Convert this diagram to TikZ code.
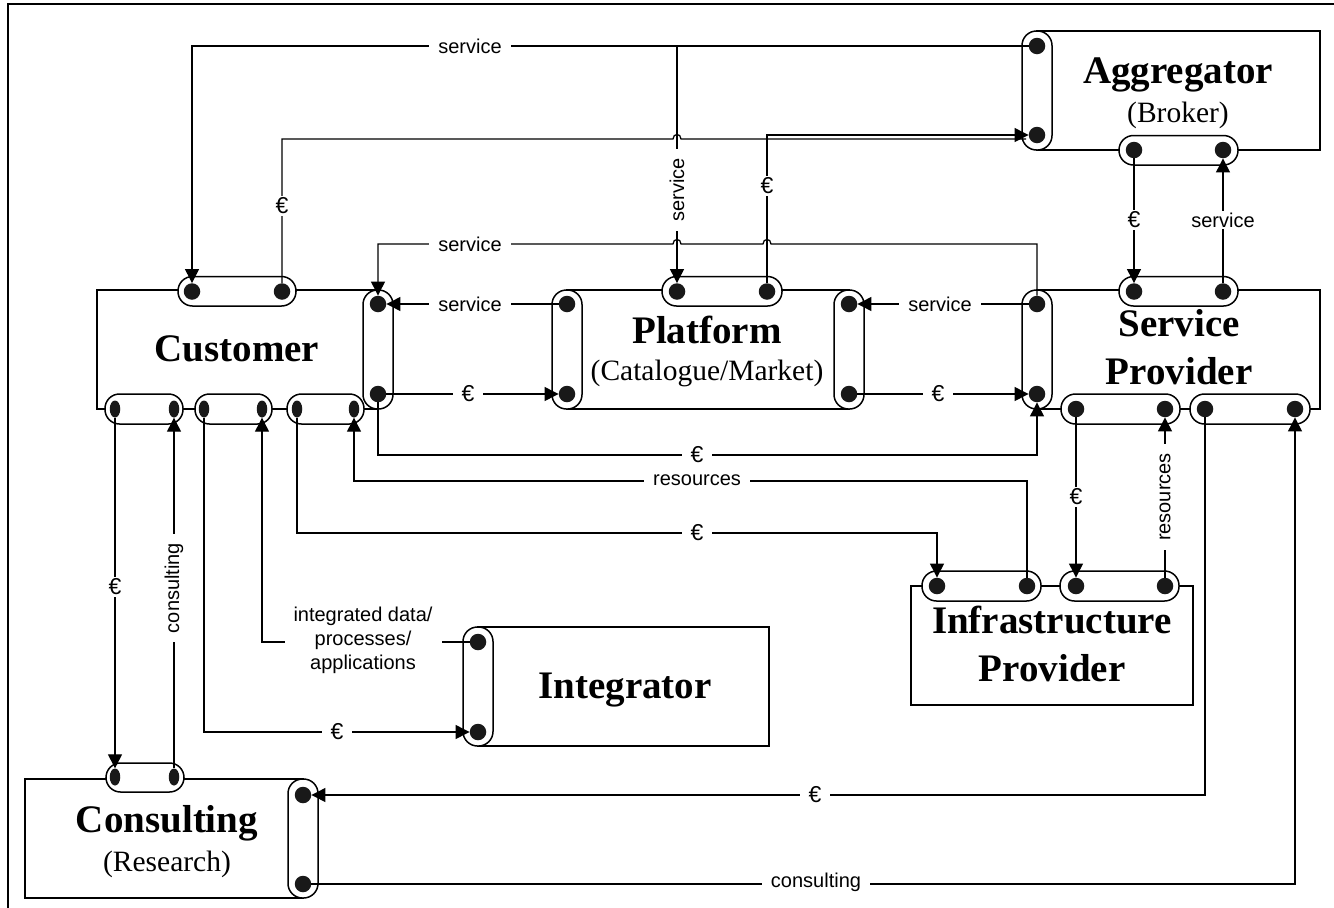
\documentclass[tikz,border=0pt]{standalone}
\usepackage{fontspec}
\setmainfont{Liberation Serif}
\newfontfamily\lblfont{Liberation Sans}
\usetikzlibrary{arrows.meta,shapes.geometric}
\begin{document}
\begin{tikzpicture}[x=1pt,y=-1pt,
  box/.style={draw, line width=1.5pt},
  capsule/.style={draw, fill=white, line width=1.5pt, rounded corners=14.5pt},
  dot/.style={circle, fill=black!90, minimum size=16.5pt, inner sep=0pt},
  edot/.style={ellipse, fill=black!90, minimum width=10.5pt, minimum height=17pt, inner sep=0pt},
  conn/.style={line width=1.25pt, -{Triangle[length=14pt,width=14pt]}},
  plain/.style={line width=1.25pt},
  lbl/.style={fill=white, font=\lblfont\fontsize{20}{24}\selectfont, inner xsep=9pt, inner ysep=2pt},
  eur/.style={lbl, font=\lblfont\fontsize{23}{26}\selectfont},
  title/.style={font=\bfseries\fontsize{39}{44}\selectfont, anchor=base},
  sub/.style={font=\fontsize{29.5}{34}\selectfont, anchor=base},
]
\useasboundingbox (0,0) rectangle (1334,908);
% outer frame
\draw[line width=2.4pt] (8,908) -- (8,4) -- (1334,4);

% ---------- boxes ----------
\draw[box] (1037,31) rectangle (1320,150);   % Aggregator
\draw[box] (97,290) rectangle (378,409);     % Customer
\draw[box] (567,290) rectangle (849,409);    % Platform
\draw[box] (1037,290) rectangle (1320,409);  % Service Provider
\draw[box] (911,586) rectangle (1193,705);   % Infrastructure Provider
\draw[box] (478,627) rectangle (769,746);    % Integrator
\draw[box] (25,779) rectangle (303,898);     % Consulting

% ---------- capsules ----------
% Aggregator
\draw[capsule] (1022,31) rectangle (1052,150);
\draw[capsule] (1119,135.5) rectangle (1238,165);
% Customer
\draw[capsule] (178,276.5) rectangle (296,306);
\draw[capsule] (363,290) rectangle (393,409);
\draw[capsule] (105,394) rectangle (183,424);
\draw[capsule] (195,394) rectangle (272,424);
\draw[capsule] (287,394) rectangle (364,424);
% Platform
\draw[capsule] (662,276.5) rectangle (782,306);
\draw[capsule] (552,290) rectangle (582,409);
\draw[capsule] (834,290) rectangle (864,409);
% Service Provider
\draw[capsule] (1119,276.5) rectangle (1238,306);
\draw[capsule] (1022,290) rectangle (1052,409);
\draw[capsule] (1061,394) rectangle (1180,424);
\draw[capsule] (1190,394) rectangle (1310,424);
% Infrastructure Provider
\draw[capsule] (922,571) rectangle (1041,601);
\draw[capsule] (1060,571) rectangle (1179,601);
% Integrator
\draw[capsule] (463,627) rectangle (493,746);
% Consulting
\draw[capsule] (106,763) rectangle (184,792);
\draw[capsule] (288,779) rectangle (318,898);

% ---------- dots ----------
\node[dot] (agg-l1) at (1037,46) {};
\node[dot] (agg-l2) at (1037,135) {};
\node[dot] (agg-b1) at (1134,150) {};
\node[dot] (agg-b2) at (1223,150) {};

\node[dot] (cus-t1) at (192,291.5) {};
\node[dot] (cus-t2) at (282,291.5) {};
\node[dot] (cus-r1) at (378,304) {};
\node[dot] (cus-r2) at (378,394) {};
\node[edot] (cus-b1) at (115,409) {};
\node[edot] (cus-b2) at (174,409) {};
\node[edot] (cus-b3) at (204,409) {};
\node[edot] (cus-b4) at (262,409) {};
\node[edot] (cus-b5) at (297,409) {};
\node[edot] (cus-b6) at (354,409) {};

\node[dot] (pl-t1) at (677,291.5) {};
\node[dot] (pl-t2) at (767,291.5) {};
\node[dot] (pl-l1) at (567,304) {};
\node[dot] (pl-l2) at (567,394) {};
\node[dot] (pl-r1) at (849,304) {};
\node[dot] (pl-r2) at (849,394) {};

\node[dot] (sp-t1) at (1134,291.5) {};
\node[dot] (sp-t2) at (1223,291.5) {};
\node[dot] (sp-l1) at (1037,304) {};
\node[dot] (sp-l2) at (1037,394) {};
\node[dot] (sp-b1) at (1076,409) {};
\node[dot] (sp-b2) at (1165,409) {};
\node[dot] (sp-b3) at (1205,409) {};
\node[dot] (sp-b4) at (1295,409) {};

\node[dot] (in-t1) at (937,586) {};
\node[dot] (in-t2) at (1027,586) {};
\node[dot] (in-t3) at (1076,586) {};
\node[dot] (in-t4) at (1165,586) {};

\node[dot] (ig-1) at (478,642) {};
\node[dot] (ig-2) at (478,732) {};

\node[edot] (co-t1) at (115,777) {};
\node[edot] (co-t2) at (174,777) {};
\node[dot] (co-r1) at (303,795) {};
\node[dot] (co-r2) at (303,884) {};

% ---------- titles ----------
\node[title] (t-agg) at (1178,83) {Aggregator};
\node[sub] (s-agg) at (1178,122) {(Broker)};
\node[title] (t-cus) at (237,361) {Customer};
\node[title] (t-pl) at (707,343) {Platform};
\node[sub] (s-pl) at (707,380) {(Catalogue/Market)};
\node[title] (t-sp1) at (1179,336) {Service};
\node[title] (t-sp2) at (1179,384) {Provider};
\node[title] (t-in1) at (1052,633) {Infrastructure};
\node[title] (t-in2) at (1052,681) {Provider};
\node[title] (t-ig) at (625,698) {Integrator};
\node[title] (t-co) at (167,832) {Consulting};
\node[sub] (s-co) at (167,871) {(Research)};

% ---------- connectors ----------
\coordinate (aggin) at (1026,139);
\draw[conn] (agg-l1) -| (cus-t1);
\draw[conn] (agg-l1) -| (pl-t1);
\draw[plain] (cus-t2) -- (282,139) -- (673,139) .. controls (673,133) and (681,133) .. (681,139) -- (aggin);
\draw[conn] (pl-t2) |- (agg-l2);
\draw[conn] (sp-l1) -- (1037,244) -- (771,244) .. controls (771,238) and (763,238) .. (763,244)
   -- (681,244) .. controls (681,238) and (673,238) .. (673,244) -- (378,244) -- (cus-r1);
\draw[conn] (pl-l1) -- (cus-r1);
\draw[conn] (sp-l1) -- (pl-r1);
\draw[conn] (cus-r2) -- (pl-l2);
\draw[conn] (pl-r2) -- (sp-l2);
\draw[conn] (cus-r2) -- (378,455) -- (1037,455) -- (sp-l2);
\draw[conn] (in-t2) -- (1027,481) -- (354,481) -- (cus-b6);
\draw[conn] (cus-b5) -- (297,533) -- (937,533) -- (in-t1);
\draw[conn] (agg-b1) -- (sp-t1);
\draw[conn] (sp-t2) -- (agg-b2);
\draw[conn] (sp-b1) -- (in-t3);
\draw[conn] (in-t4) -- (sp-b2);
\draw[conn] (ig-1) -| (cus-b4);
\draw[conn] (cus-b3) |- (ig-2);
\draw[conn] (cus-b1) -- (co-t1);
\draw[conn] (co-t2) -- (cus-b2);
\draw[conn] (sp-b3) |- (co-r1);
\draw[conn] (co-r2) -| (sp-b4);

% ---------- labels ----------
\node[lbl] (l1) at (470,46) {service};
\node[lbl, rotate=90] (l2) at (677,190) {service};
\node[eur] (l3) at (282,206) {€};
\node[eur] (l4) at (767,186) {€};
\node[lbl] (l5) at (470,244) {service};
\node[lbl] (l6) at (470,304) {service};
\node[lbl] (l7) at (940,304) {service};
\node[eur] (l8) at (468,394) {€};
\node[eur] (l9) at (938,394) {€};
\node[eur] (l10) at (697,455) {€};
\node[lbl] (l11) at (697,480) {resources};
\node[eur] (l12) at (697,533) {€};
\node[eur] (l13) at (1134,220) {€};
\node[lbl] (l14) at (1223,220) {service};
\node[eur] (l15) at (1076,497) {€};
\node[lbl, rotate=90] (l16) at (1165,497) {resources};
\node[lbl, align=center, font=\lblfont\fontsize{20}{24}\selectfont] (l17) at (363,640) {integrated data/\\processes/\\applications};
\node[eur] (l18) at (337,732) {€};
\node[eur] (l19) at (115,587) {€};
\node[lbl, rotate=90] (l20) at (174,588) {consulting};
\node[eur] (l21) at (815,795) {€};
\node[lbl] (l22) at (816,882) {consulting};
\end{tikzpicture}
\end{document}
